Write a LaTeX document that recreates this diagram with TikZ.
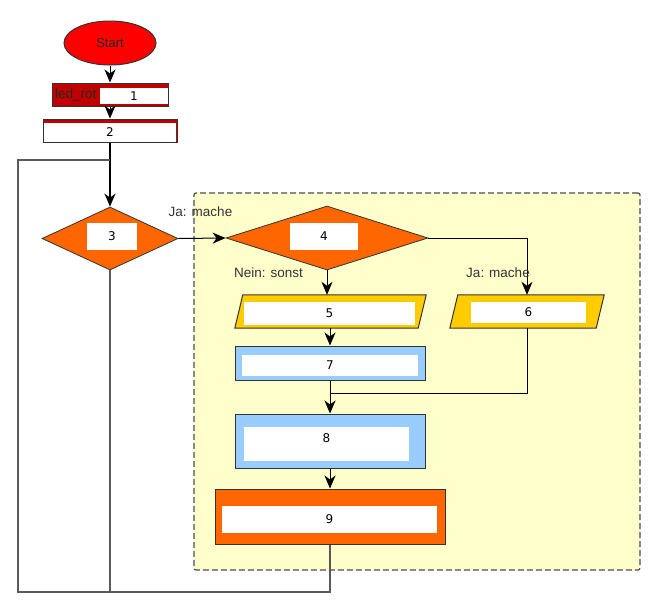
\documentclass[tikz,border=0pt]{standalone}
\usepackage{fontspec}
\setmainfont{Liberation Sans}
\newfontfamily\numfont{DejaVu Sans}
\usetikzlibrary{shapes.geometric,arrows.meta}
\definecolor{orng}{HTML}{FF6600}
\definecolor{ylw}{HTML}{FFCC00}
\definecolor{lblue}{HTML}{99CCFF}
\definecolor{darkred}{HTML}{C00000}
\definecolor{groupbg}{HTML}{FFFFCC}
\definecolor{edgec}{HTML}{333333}
\tikzset{
  box/.style={rectangle, draw=edgec, line width=1pt, inner sep=0pt},
  dia/.style={diamond, draw=edgec, line width=0.8pt, fill=orng, inner sep=0pt},
  frame/.style={rectangle, inner sep=0pt},
  para/.style={draw=edgec, line width=1pt, fill=ylw},
  inner/.style={rectangle, fill=white, inner sep=0pt, font=\numfont\fontsize{12}{13}\selectfont},
  flow/.style={-{Stealth[length=13pt,width=11pt,inset=4pt]}, line width=1pt, draw=black},
  plain/.style={line width=1pt, draw=black},
  loopline/.style={draw=black!65, line width=1.3pt},
  lbl/.style={font=\fontsize{13.5}{14}\selectfont, text=black!80, inner sep=0pt},
}
\begin{document}
\begin{tikzpicture}[x=1pt,y=-1pt]
\useasboundingbox (0,0) rectangle (660,606);
% group background
\node[draw=black!70, dash pattern=on 6pt off 3pt, line width=1.2pt, fill=groupbg, rounded corners=2pt,
  minimum width=446pt, minimum height=377pt, inner sep=0pt] (grp) at (417,381.5) {};
% start
\node[ellipse, draw=edgec, line width=1pt, fill=red, minimum width=92pt, minimum height=44pt, inner sep=0pt,
  font=\fontsize{13}{14}\selectfont, text=black!85] (start) at (110,43) {Start};
% node 1
\node[box, fill=darkred, minimum width=116pt, minimum height=23pt] (n1) at (110,94.5) {};
\node[inner, minimum width=68pt, minimum height=16pt] (t1) at (134,96) {1};
\node[lbl, anchor=west, text=black!85] (l1) at (55,94.5) {led\_rot};
% node 2
\node[box, fill=darkred, minimum width=134pt, minimum height=23pt] (n2) at (110,130.5) {};
\node[inner, minimum width=132pt, minimum height=19pt] (t2) at (110,132) {2};
% diamond 3
\node[dia, minimum width=136pt, minimum height=63pt] (d3) at (110,238.5) {};
\node[inner, minimum width=50pt, minimum height=27pt] (t3) at (112,236.5) {3};
% diamond 4
\node[dia, minimum width=202pt, minimum height=64pt] (d4) at (327,238) {};
\node[inner, minimum width=68pt, minimum height=27pt] (t4) at (324,236.5) {4};
% parallelogram 5
\node[frame, minimum width=183pt, minimum height=33pt] (p5) at (330.5,311.5) {};
\draw[para] ([xshift=-4pt]p5.south west) -- ([xshift=4pt]p5.north west) -- ([xshift=4pt]p5.north east) -- ([xshift=-4pt]p5.south east) -- cycle;
\node[inner, minimum width=171pt, minimum height=23pt] (t5) at (329.5,313.5) {5};
% parallelogram 6
\node[frame, minimum width=146pt, minimum height=33pt] (p6) at (527,311.5) {};
\draw[para] ([xshift=-4pt]p6.south west) -- ([xshift=4pt]p6.north west) -- ([xshift=4pt]p6.north east) -- ([xshift=-4pt]p6.south east) -- cycle;
\node[inner, minimum width=115pt, minimum height=21pt] (t6) at (528.5,312.5) {6};
% node 7
\node[box, fill=lblue, minimum width=190pt, minimum height=34pt] (n7) at (330,363) {};
\node[inner, minimum width=176pt, minimum height=21pt] (t7) at (330,365.5) {7};
% node 8
\node[box, fill=lblue, minimum width=190pt, minimum height=54pt] (n8) at (330,441) {};
\node[inner, minimum width=165pt, text height=15.5pt, text depth=18.5pt] (t8) at (326.5,444) {8};
% node 9
\node[box, fill=orng, minimum width=230pt, minimum height=55pt] (n9) at (330,516.5) {};
\node[inner, minimum width=215pt, minimum height=27pt] (t9) at (329.5,519.5) {9};
% coordinates
\coordinate (join) at (330,393);
\coordinate (loopbl) at (18,592);
\coordinate (looptop) at (110,160);
% connectors
\draw[flow] (start.south) -- (n1.north);
\draw[flow] (n1.south) -- (n2.north);
\draw[flow, line width=1.5pt] (n2.south) -- (d3.north);
\draw[flow] (d3.east) -- (d4.west);
\draw[flow] (d4.south) -- (d4.south |- p5.north);
\draw[flow] (d4.east) -| (p6.north);
\draw[flow] (p5.south -| n7.north) -- (n7.north);
\draw[flow] (n7.south) -- (n8.north);
\draw[plain] (p6.south) |- (join);
\draw[flow] (n8.south) -- (n9.north);
\draw[loopline] (n9.south) |- (loopbl) |- (looptop) -- (n2.south |- looptop);
\draw[loopline] (d3.south) -- (d3.south |- loopbl);
% labels
\node[lbl] (la) at (200.5,212) {Ja: mache};
\node[lbl] (lb) at (268.5,273) {Nein: sonst};
\node[lbl] (lc) at (498,273) {Ja: mache};
\end{tikzpicture}
\end{document}
